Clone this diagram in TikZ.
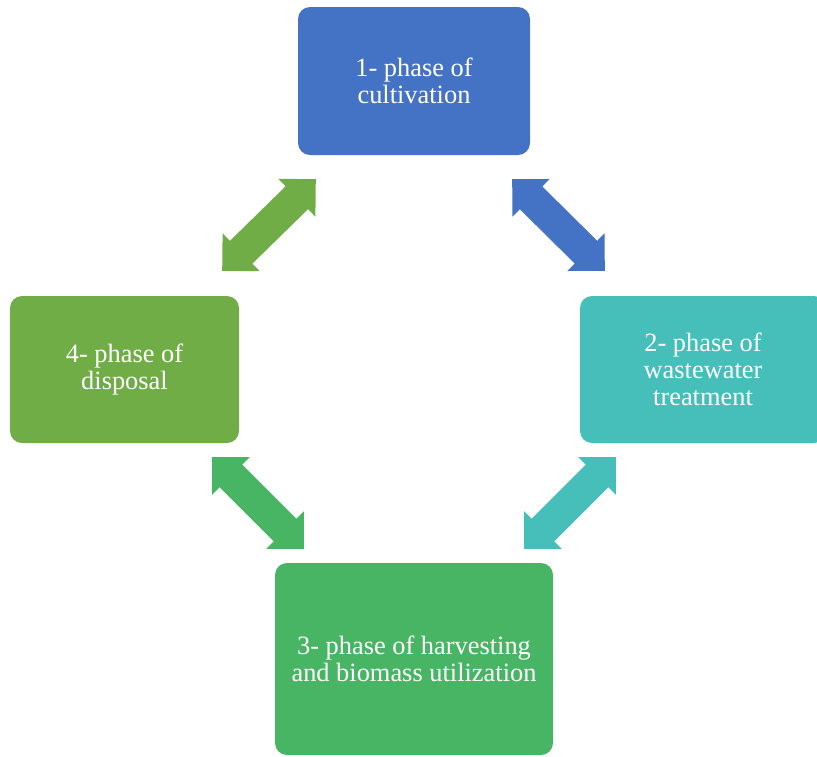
\documentclass[tikz,border=0pt]{standalone}
\usepackage{fontspec}
\setmainfont{Liberation Serif}
\usetikzlibrary{positioning, calc}

\definecolor{phaseblue}{RGB}{68,114,196}
\definecolor{phaseteal}{RGB}{70,190,185}
\definecolor{phasegreen}{RGB}{71,181,99}
\definecolor{phaseolive}{RGB}{112,173,71}

\begin{document}
\begin{tikzpicture}[
  x=1pt, y=-1pt, % one unit = one pixel of the 817x756 frame, y pointing down
  phasebox/.style={rounded corners=12pt, text=white, align=center, inner sep=0pt,
    font=\fontsize{26.4}{27}\selectfont}
]
  \useasboundingbox (0,0) rectangle (817,756);

  % the four phases
  \node[phasebox, fill=phaseblue,  minimum width=232pt, minimum height=148pt] (p1) at (414,81)    {1- phase of\\cultivation};
  \node[phasebox, fill=phaseteal,  minimum width=246pt, minimum height=147pt] (p2) at (703,369.5) {2- phase of\\wastewater\\treatment};
  \node[phasebox, fill=phasegreen, minimum width=278pt, minimum height=192pt] (p3) at (414,659)   {3- phase of harvesting\\and biomass utilization};
  \node[phasebox, fill=phaseolive, minimum width=229pt, minimum height=147pt] (p4) at (124.5,369.5) {4- phase of\\disposal};

  % tips of the double arrows, next to the box corners
  \coordinate (a14) at ($(p1.south west)+(18,24)$);
  \coordinate (a41) at ($(p4.north east)+(-17,-25)$);
  \coordinate (a12) at ($(p1.south east)+(-18,24)$);
  \coordinate (a21) at ($(p2.north west)+(25,-25)$);
  \coordinate (a23) at ($(p2.south west)+(36,14)$);
  \coordinate (a32) at ($(p3.north east)+(-29,-14)$);
  \coordinate (a34) at ($(p3.north west)+(29,-14)$);
  \coordinate (a43) at ($(p4.south east)+(-27,14)$);

  % block double arrow: colour, tip, tip (90 degree heads)
  \newcommand{\phasearrow}[3]{%
    \fill[#1] (#2) -- ($(#2)!37.5pt!45:(#3)$) -- ($(#2)!30.96pt!31.12:(#3)$)
      -- ($(#3)!30.96pt!-31.12:(#2)$) -- ($(#3)!37.5pt!-45:(#2)$) -- (#3)
      -- ($(#3)!37.5pt!45:(#2)$) -- ($(#3)!30.96pt!31.12:(#2)$)
      -- ($(#2)!30.96pt!-31.12:(#3)$) -- ($(#2)!37.5pt!-45:(#3)$) -- cycle;
  }

  \phasearrow{phaseblue}{a12}{a21}  % 1 <-> 2
  \phasearrow{phaseteal}{a23}{a32}  % 2 <-> 3
  \phasearrow{phasegreen}{a34}{a43} % 3 <-> 4
  \phasearrow{phaseolive}{a41}{a14} % 4 <-> 1
\end{tikzpicture}
\end{document}
